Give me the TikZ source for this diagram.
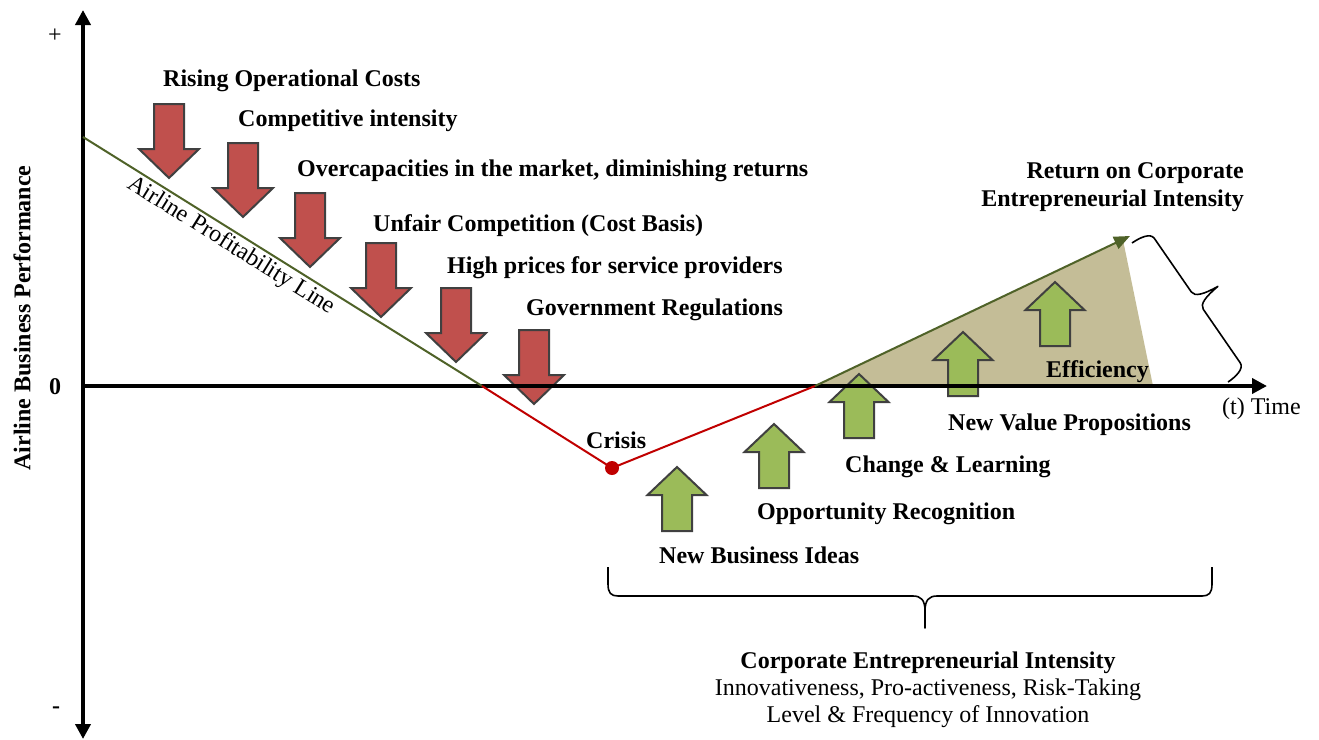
\documentclass[tikz,border=0pt]{standalone}
\usepackage{fontspec}
\setmainfont{Liberation Serif}
\usetikzlibrary{arrows.meta}
\definecolor{redfill}{HTML}{C0504D}
\definecolor{greenfill}{HTML}{9BBB59}
\definecolor{arrborder}{HTML}{404040}
\definecolor{lineolive}{HTML}{4F6228}
\definecolor{linered}{HTML}{C00000}
\definecolor{tanfill}{HTML}{C4BD97}
\begin{document}
\begin{tikzpicture}[x=1pt,y=-1pt,
  lbl/.style={font=\fontsize{24}{28}\selectfont\bfseries, inner sep=0pt, anchor=base west},
  plain/.style={font=\fontsize{24}{28}\selectfont, inner sep=0pt},
  axisline/.style={line width=3.8pt, draw=black},
  perfline/.style={line width=2pt},
  bracestyle/.style={line width=1.6pt, line join=round},
  redarr/.pic={\draw[fill=redfill, draw=arrborder, line width=2pt]
     (-15,0) -- (15,0) -- (15,45) -- (30,45) -- (0,74) -- (-30,45) -- (-15,45) -- cycle;},
  greenarr/.pic={\draw[fill=greenfill, draw=arrborder, line width=2pt]
     (0,0) -- (29.5,28) -- (15,28) -- (15,64) -- (-15,64) -- (-15,28) -- (-29.5,28) -- cycle;}
]
\useasboundingbox (0,0) rectangle (1319,739);

% key points
\coordinate (ystart) at (83,137);
\coordinate (cross) at (482,386);
\coordinate (crisis) at (612,468);
\coordinate (zeroB) at (815,386);
\coordinate (ret) at (1130,236);
\coordinate (retfoot) at (1153,386);
\coordinate (retapex) at (1123,240);

% shaded return area
\fill[tanfill] (zeroB) -- (retapex) -- (retfoot) -- cycle;

% red arrows
\pic at (169,104) {redarr};
\pic at (243,143) {redarr};
\pic at (310,193) {redarr};
\pic at (381,243) {redarr};
\pic at (456,288) {redarr};
\pic at (534,330) {redarr};

% green arrows
\pic at (677,467) {greenarr};
\pic at (774,424) {greenarr};
\pic at (859,374) {greenarr};
\pic at (963,332) {greenarr};
\pic at (1055,282) {greenarr};

% axes
\coordinate (ybot) at (83,739);
\coordinate (ytop) at (83,10);
\coordinate (xleft) at (83,386);
\coordinate (xright) at (1267,386);
\draw[axisline, {Triangle[length=15pt,width=15pt]}-{Triangle[length=15pt,width=15pt]}] (ybot) -- (ytop);
\draw[axisline, -{Triangle[length=15pt,width=15pt]}] (xleft) -- (xright);

% performance lines
\draw[perfline, lineolive] (ystart) -- node[pos=0.39, sloped, below=2pt, plain, text=black] (apl) {Airline Profitability Line} (cross);
\draw[perfline, linered] (cross) -- (crisis) -- (zeroB);
\draw[perfline, lineolive, -{Triangle[length=16pt,width=13pt]}] (zeroB) -- (ret);
\node[circle, fill=linered, minimum size=14pt, inner sep=0pt] (crisisdot) at (crisis) {};

% right brace
\begin{scope}[shift={(1132,243)}, x={(0.568pt,-0.823pt)}, y={(0.823pt,0.568pt)}]
\draw[bracestyle] (0,0) .. controls (0,10) and (2,21) .. (9,21) -- (74,21)
   .. controls (80,21) and (83,30) .. (84.5,46)
   .. controls (86,30) and (89,21) .. (95,21) -- (160,21)
   .. controls (167,21) and (169,10) .. (169,0);
\end{scope}

% bottom brace
\draw[bracestyle] (608,567) -- (608,584) .. controls (608,593) and (611,596) .. (618,596) -- (913,596)
   .. controls (921,596) and (925,600) .. (925,611) -- (925,628) -- (925,611)
   .. controls (925,600) and (929,596) .. (937,596) -- (1202,596)
   .. controls (1209,596) and (1212,593) .. (1212,584) -- (1212,567);

% axis texts
\node[plain] (plus) at (55,36) {+};
\node[plain, font=\fontsize{24}{28}\selectfont\bfseries] (zero) at (55,387) {0};
\node[plain, font=\fontsize{24}{28}\selectfont\bfseries] (minus) at (56,710) {-};
\node[plain, font=\fontsize{24}{28}\selectfont\bfseries, rotate=90] (ylab) at (22,318) {Airline Business Performance};
\node[plain, anchor=base west] (time) at (1222,414) {(t) Time};

% pressure labels
\node[lbl] (t1) at (163,86) {Rising Operational Costs};
\node[lbl] (t2) at (238,126) {Competitive intensity};
\node[lbl] (t3) at (297,176) {Overcapacities in the market, diminishing returns};
\node[lbl] (t4) at (373,231) {Unfair Competition (Cost Basis)};
\node[lbl] (t5) at (447,273) {High prices for service providers};
\node[lbl] (t6) at (526,315) {Government Regulations};
\node[lbl] (tc) at (586,448) {Crisis};

% renewal labels
\node[lbl] (g1) at (659,563) {New Business Ideas};
\node[lbl] (g2) at (757,519) {Opportunity Recognition};
\node[lbl] (g3) at (845,472) {Change \& Learning};
\node[lbl] (g4) at (948,430) {New Value Propositions};
\node[lbl] (g5) at (1046,377) {Efficiency};
\node[lbl, anchor=base east] (r1) at (1244,178) {Return on Corporate};
\node[lbl, anchor=base east] (r2) at (1244,206) {Entrepreneurial Intensity};

% bottom description
\node[lbl, anchor=base] (b1) at (928,668) {Corporate Entrepreneurial Intensity};
\node[plain, anchor=base] (b2) at (928,695) {Innovativeness, Pro-activeness, Risk-Taking};
\node[plain, anchor=base] (b3) at (928,722) {Level \& Frequency of Innovation};
\end{tikzpicture}
\end{document}
